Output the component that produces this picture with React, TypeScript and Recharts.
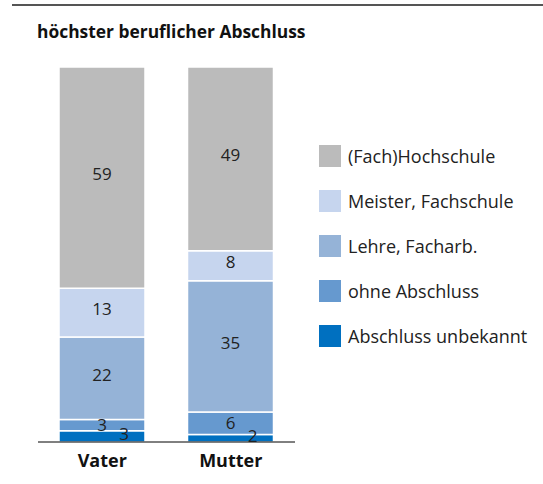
import { BarChart, Bar, XAxis, YAxis, Legend, LabelList } from 'recharts'

const parents = ['Vater', 'Mutter']
const unbekannt = [3, 2]
const ohne = [3, 6]
const lehre = [22, 35]
const meister = [13, 8]
const hochschule = [59, 49]

const SERIES = [
  { key: 'unbekannt', name: 'Abschluss unbekannt', color: '#0070C0' },
  { key: 'ohne', name: 'ohne Abschluss', color: '#6699CF' },
  { key: 'lehre', name: 'Lehre, Facharb.', color: '#95B3D7' },
  { key: 'meister', name: 'Meister, Fachschule', color: '#C6D5EE' },
  { key: 'hochschule', name: '(Fach)Hochschule', color: '#BBBBBB' },
]

const data = parents.map((p, i) => ({
  name: p,
  unbekannt: unbekannt[i],
  ohne: ohne[i],
  lehre: lehre[i],
  meister: meister[i],
  hochschule: hochschule[i],
}))

const FONT = '"Open Sans", sans-serif'

// value label; the bottom series is nudged to the right like in the original
const makeLabel = (dx: number, dy: number) => (props: any) => {
  const { x, y, width, height, value } = props
  return (
    <text x={x + width / 2 + dx} y={y + height / 2 + dy} textAnchor="middle" dominantBaseline="central"
      fontSize={17} fill="#222" fontFamily={FONT}>
      {value}
    </text>
  )
}

const renderLegend = () => (
  <div style={{ fontFamily: FONT, fontSize: 18, color: '#222' }}>
    {[...SERIES].reverse().map(s => (
      <div key={s.key} style={{ display: 'flex', alignItems: 'center', height: 45 }}>
        <span style={{ width: 22, height: 22, background: s.color, marginRight: 7, display: 'inline-block' }} />
        <span>{s.name}</span>
      </div>
    ))}
  </div>
)

export default function App() {
  return (
    <div style={{ position: 'absolute', left: 0, top: 0, width: 543, height: 484, background: '#fff' }}>
      <div style={{ position: 'absolute', left: 12, top: 4, width: 531, height: 2, background: '#555' }} />
      <div style={{ position: 'absolute', left: 37, top: 19, fontFamily: FONT, fontWeight: 'bold', fontSize: 17.4, color: '#111' }}>
        höchster beruflicher Abschluss
      </div>
      <BarChart width={543} height={484} data={data} barSize={86}
        margin={{ top: 67, right: 248, bottom: 12, left: 38 }}>
        <XAxis dataKey="name" tickLine={false} axisLine={{ stroke: '#000', strokeWidth: 1 }} height={30}
          tick={{ fontSize: 18, fontWeight: 'bold', fill: '#111', fontFamily: FONT }} tickMargin={6} />
        <YAxis hide domain={[0, 100]} />
        <Legend layout="vertical" align="center" verticalAlign="middle" content={renderLegend}
          wrapperStyle={{ left: 319, top: 133, width: 224 }} />
        {SERIES.map(s => (
          <Bar key={s.key} dataKey={s.key} name={s.name} stackId="a" fill={s.color}
            stroke="#fff" strokeWidth={1.5} isAnimationActive={false}>
            <LabelList dataKey={s.key}
              content={s.key === 'unbekannt' ? makeLabel(22, -3) : makeLabel(0, s.key === 'ohne' ? -1 : -4)} />
          </Bar>
        ))}
      </BarChart>
    </div>
  )
}
